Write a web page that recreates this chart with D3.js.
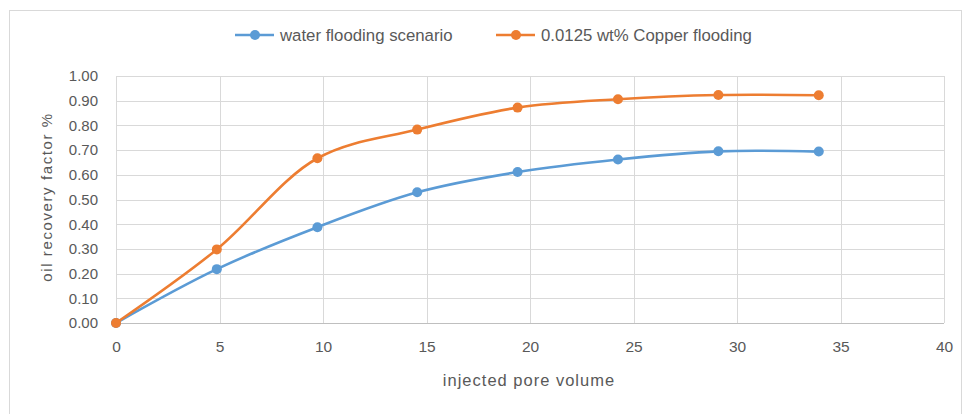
<!DOCTYPE html>
<html><head><meta charset="utf-8">
<script src="https://cdn.jsdelivr.net/npm/d3@7"></script>
<style>
body{margin:0;background:#fff;}
text{font-family:"Liberation Sans",Arial,sans-serif;fill:#595959;}
</style></head><body>
<svg id="c" width="965" height="414"></svg>
<script>
const injected = [0, 4.87, 9.73, 14.55, 19.4, 24.25, 29.1, 33.95];
const waterFlooding = [0, 0.218, 0.388, 0.529, 0.611, 0.662, 0.695, 0.694];
const copperFlooding = [0, 0.298, 0.667, 0.783, 0.872, 0.906, 0.923, 0.922];
const seriesNames = ["water flooding scenario", "0.0125 wt% Copper flooding"];
const xTicks = [0, 5, 10, 15, 20, 25, 30, 35, 40];
const yTicks = [0, 0.1, 0.2, 0.3, 0.4, 0.5, 0.6, 0.7, 0.8, 0.9, 1.0];
const colors = ["#5B9BD5", "#ED7D31"];

const svg = d3.select("#c");
svg.append("rect").attr("x",9.5).attr("y",10.5).attr("width",952).attr("height",410)
  .attr("fill","#fff").attr("stroke","#d9d9d9");

const x = d3.scaleLinear().domain([0,40]).range([116,944]);
const y = d3.scaleLinear().domain([0,1]).range([323,76]);

// grid
svg.append("g").selectAll("line").data(yTicks).join("line")
  .attr("x1",x(0)).attr("x2",x(40)).attr("y1",d=>Math.round(y(d))+0.5).attr("y2",d=>Math.round(y(d))+0.5)
  .attr("stroke",d=>d===0?"#bfbfbf":"#d9d9d9").attr("stroke-width",1);
svg.append("g").selectAll("line").data(xTicks).join("line")
  .attr("y1",y(0)).attr("y2",y(1)).attr("x1",d=>Math.round(x(d))+0.5).attr("x2",d=>Math.round(x(d))+0.5)
  .attr("stroke","#d9d9d9");

// axes labels
const xAxis = d3.axisBottom(x).tickValues(xTicks).tickSize(0).tickPadding(18).tickFormat(d3.format("d"));
const gx = svg.append("g").attr("transform",`translate(0,${y(0)})`).call(xAxis);
gx.select(".domain").remove();
gx.selectAll("text").style("font-size","15.5px").attr("fill","#595959").style("font-family","'Liberation Sans',Arial,sans-serif");

const yAxis = d3.axisLeft(y).tickValues(yTicks).tickSize(0).tickPadding(18).tickFormat(d3.format(".2f"));
const gy = svg.append("g").attr("transform",`translate(${x(0)},0)`).call(yAxis);
gy.select(".domain").remove();
gy.selectAll("text").attr("fill","#595959").style("font-family","'Liberation Sans',Arial,sans-serif").style("font-size","15px");

svg.append("text").attr("x",529).attr("y",386).attr("text-anchor","middle")
  .style("font-size","16.5px").style("letter-spacing","1px").text("injected pore volume");
svg.append("text").attr("transform","translate(52,197) rotate(-90)").attr("text-anchor","middle")
  .style("font-size","15px").style("letter-spacing","1.6px").text("oil recovery factor %");

// lines
const line = d3.line().x(d=>x(d[0])).y(d=>y(d[1])).curve(d3.curveCatmullRom.alpha(0.5));
[waterFlooding, copperFlooding].forEach((vals,i)=>{
  const pts = injected.map((v,j)=>[v, vals[j]]);
  svg.append("path").datum(pts).attr("d",line).attr("fill","none")
    .attr("stroke",colors[i]).attr("stroke-width",2.6).attr("stroke-linecap","round");
  svg.append("g").selectAll("circle").data(pts).join("circle")
    .attr("cx",d=>x(d[0])).attr("cy",d=>y(d[1])).attr("r",5).attr("fill",colors[i]);
});

// legend
const legX = [235, 496];
seriesNames.forEach((n,i)=>{
  const g = svg.append("g").attr("transform",`translate(${legX[i]},35)`);
  g.append("line").attr("x1",0).attr("x2",39).attr("stroke",colors[i]).attr("stroke-width",2.6);
  g.append("circle").attr("cx",20).attr("r",5).attr("fill",colors[i]);
  g.append("text").attr("x",45).attr("y",6).style("font-size","16.8px").text(n);
});
</script></body></html>
